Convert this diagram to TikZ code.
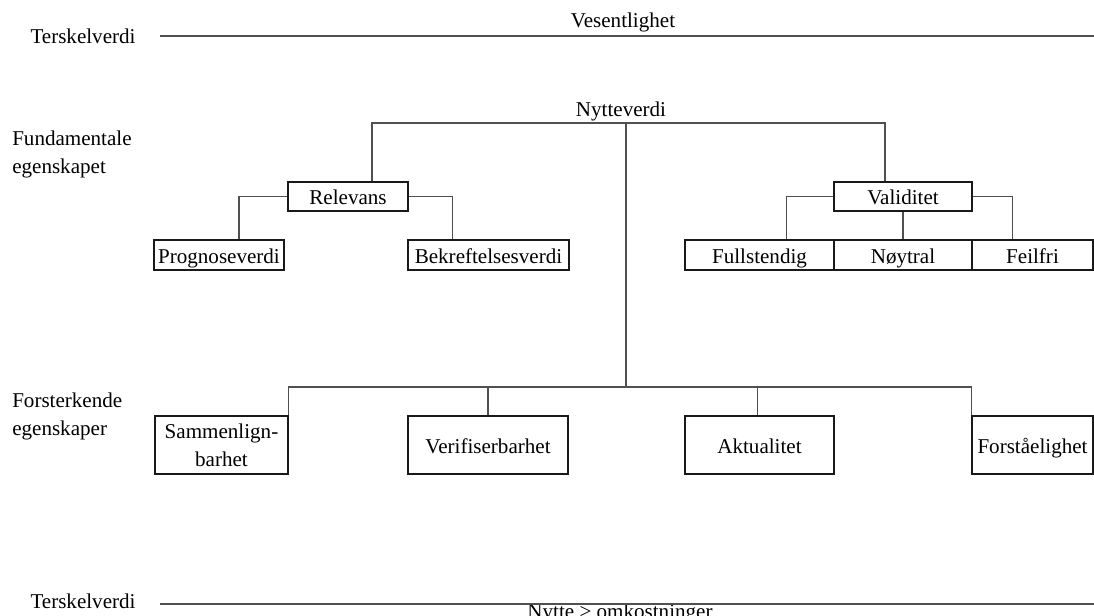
\documentclass[tikz,border=0pt]{standalone}
\usepackage{fontspec}
\setmainfont{Liberation Serif}
\usetikzlibrary{calc,positioning}
\definecolor{lnblack}{RGB}{25,25,25}
\definecolor{lngrey}{RGB}{80,80,80}
\tikzset{
  qbox/.style={draw=lnblack,line width=0.8pt,inner sep=0pt,align=center},
  qone/.style={qbox,text height=14pt,text depth=2pt},
  qlink/.style={draw=lngrey,line width=1pt},
  qrule/.style={draw=lngrey,line width=1.1pt},
  sidetext/.style={align=left,anchor=west,inner sep=0pt},
}
% [style] name, left, top, right, bottom, text
\newcommand{\qcell}[7][qone]{%
  \node[#1,minimum width={(#5-#3)*0.75pt},minimum height={(#6-#4)*0.75pt}]
    (#2) at ({(#3+#5)/2},{(#4+#6)/2}) {#7};}
\begin{document}
\begin{tikzpicture}[x=0.75pt,y=-0.75pt,font=\fontsize{15.8}{21}\selectfont]
        \useasboundingbox (0,0) rectangle (1094,615);
        % threshold lines
        \node (tstop) at (83,36) {Terskelverdi};
        \node (vesent) at (623,22) {Vesentlighet};
        \coordinate (topend) at (1094,36);
        \draw[qrule] ([xshift=15pt]tstop.east |- topend) -- (topend);
        \node (tsbot) at (83,601) {Terskelverdi};
        \node (nyttekost) at (620,613) {Nytte > omkostninger};
        \coordinate (botend) at (1094,604);
        \draw[qrule] ([xshift=15pt]tsbot.east |- botend) -- (botend);
        % side labels
        \node[sidetext] (fund) at (12,154) {Fundamentale\\egenskapet};
        \node[sidetext] (forst) at (12,416) {Forsterkende\\egenskaper};
        % fundamental qualities
        \node (nytte) at (621,111) {Nytteverdi};
        \qcell{relevans}{288}{182}{408}{211}{Relevans}
        \qcell{validitet}{834}{182}{972}{211}{Validitet}
        \qcell{progn}{154}{240}{284}{270}{Prognoseverdi}
        \qcell{bekreft}{408}{240}{569}{270}{Bekreftelsesverdi}
        \qcell{fullst}{685}{240}{834}{270}{Fullstendig}
        \qcell{noytral}{834}{240}{972}{270}{Nøytral}
        \qcell{feilfri}{972}{240}{1093}{270}{Feilfri}
        \coordinate (hub) at (626,123);
        \coordinate (bar) at (626,387);
        \draw[qlink] ($(relevans.north)+(24,0)$) |- (hub) -| ($(validitet.north)+(-18,0)$);
        \draw[qlink] (hub) -- (bar);
        \draw[qlink] (relevans.west) -| ($(progn.north)+(20,0)$);
        \draw[qlink] (relevans.east) -| ($(bekreft.north)+(-36,0)$);
        \draw[qlink] (validitet.west) -| ($(fullst.north)+(27,0)$);
        \draw[qlink] (validitet.south) -- (noytral.north);
        \draw[qlink] (validitet.east) -| ($(feilfri.north)+(-20,0)$);
        % enhancing qualities
        \qcell[qbox]{sammen}{155}{416}{288}{474}{Sammenlign-\\barhet}
        \qcell{verif}{408}{416}{568}{474}{Verifiserbarhet}
        \qcell{aktual}{685}{416}{834}{474}{Aktualitet}
        \qcell{forstaa}{972}{416}{1093}{474}{Forståelighet}
        \draw[qlink] (sammen.north east) |- (bar) -| (forstaa.north west);
        \draw[qlink] (verif.north) -- (verif.north |- bar);
        \draw[qlink] ($(aktual.north)+(-2,0)$) -- ($(aktual.north |- bar)+(-2,0)$);
      \end{tikzpicture}
\end{document}
